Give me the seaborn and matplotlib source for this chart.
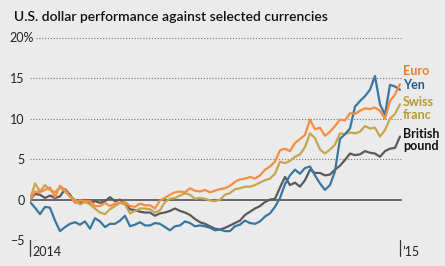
import pandas as pd
import matplotlib
matplotlib.use("Agg")
import matplotlib.pyplot as plt
import matplotlib.dates as mdates
import matplotlib.transforms as mtransforms
import seaborn as sns

# weekly-ish readings, Jan 1 2014 -> Jan 1 2015, percent change vs. the dollar
n_points = 75
euro = [0.0, 1.0, 0.9, 1.2, 1.5, 0.3, 1.7, 1.2, 0.4, -0.4,
        -0.1, -0.2, -0.2, -0.8, -0.8, -0.4, -0.8, -0.5, -0.4, -0.3,
        -0.8, -0.9, -0.5, -0.7, -0.7, -1.1, -0.1, 0.2, 0.6, 0.9,
        1.0, 0.9, 1.4, 1.1, 1.0, 1.2, 0.9, 1.1, 1.3, 1.4,
        1.7, 2.2, 2.5, 2.6, 2.8, 2.6, 3.0, 3.7, 4.1, 4.7,
        6.1, 6.3, 6.0, 7.0, 7.5, 8.0, 9.9, 8.7, 8.9, 7.9,
        8.4, 9.1, 9.9, 9.8, 10.7, 10.6, 11.0, 11.3, 11.2, 11.4,
        11.0, 10.0, 12.2, 13.0, 14.3]
yen = [-0.3, -1.0, -1.8, -0.9, -1.0, -2.6, -3.9, -3.4, -3.0, -2.8,
       -3.1, -2.7, -3.6, -2.3, -2.7, -3.4, -3.0, -3.0, -2.6, -2.0,
       -3.3, -3.1, -2.8, -3.2, -3.2, -2.9, -3.0, -3.4, -3.8, -3.3,
       -3.2, -2.7, -2.9, -3.3, -3.2, -3.3, -3.5, -3.8, -3.7, -3.9,
       -3.9, -3.3, -3.1, -2.6, -2.9, -3.0, -2.7, -2.1, -1.7, -0.9,
       0.2, 1.9, 3.0, 3.7, 3.2, 3.9, 4.1, 3.0, 2.0, 1.2,
       1.8, 3.5, 7.5, 8.1, 8.8, 11.5, 12.2, 12.8, 13.6, 15.3,
       11.8, 10.5, 14.2, 14.0, 13.6]
swiss_franc = [0.0, 2.0, 1.0, 1.8, 1.2, 0.9, 1.5, 1.0, 0.4, 0.0,
               -0.6, -0.3, -0.6, -1.1, -1.6, -1.8, -1.2, -0.8, -0.4, -0.6,
               -1.7, -1.4, -1.1, -1.1, -1.2, -1.6, -1.3, -0.3, 0.1, 0.2,
               0.5, 0.8, 0.6, 0.1, 0.2, 0.1, -0.1, -0.2, 0.0, 0.6,
               0.8, 1.3, 1.4, 1.6, 1.6, 1.8, 2.1, 2.4, 2.6, 3.2,
               4.7, 4.5, 4.8, 5.3, 5.6, 6.5, 8.2, 7.6, 6.2, 5.7,
               6.2, 6.8, 8.2, 8.1, 8.3, 8.2, 8.4, 9.1, 8.8, 8.9,
               7.8, 8.6, 10.0, 10.6, 11.8]
british_pound = [0.0, 0.7, 0.6, 0.2, 0.5, 0.2, 0.4, 1.3, 0.6, -0.3,
                 -0.4, -0.2, -0.4, -0.2, -0.4, -0.2, 0.3, -0.2, 0.0, -0.5,
                 -1.2, -1.3, -1.5, -1.6, -1.6, -2.0, -1.7, -1.6, -1.4, -1.1,
                 -1.4, -1.6, -1.9, -2.4, -2.8, -3.0, -3.3, -3.6, -3.7, -3.5,
                 -3.2, -2.9, -2.6, -1.9, -1.5, -1.1, -0.8, -0.3, 0.0, 0.1,
                 1.5, 2.8, 1.8, 2.1, 1.6, 2.4, 3.7, 3.3, 3.3, 3.0,
                 3.1, 3.7, 4.2, 4.9, 5.7, 5.5, 5.6, 6.0, 5.8, 5.7,
                 5.3, 6.0, 6.3, 6.4, 7.8]

currencies = ["Euro", "Yen", "Swiss franc", "British pound"]
colors = {"Euro": "#f68d42", "Yen": "#3a779e",
          "Swiss franc": "#c4a64e", "British pound": "#5a5a5a"}
label_colors = {"Euro": "#f27a2a", "Yen": "#1f5d88",
                "Swiss franc": "#b89a36", "British pound": "#111111"}
label_y = {"Euro": 15.9, "Yen": 14.2, "Swiss franc": 11.3, "British pound": 7.4}

dates = pd.date_range("2014-01-01", "2015-01-01", periods=n_points)
df = pd.DataFrame({"date": dates, "Euro": euro, "Yen": yen,
                   "Swiss franc": swiss_franc, "British pound": british_pound})
df = df.melt(id_vars="date", var_name="currency", value_name="pct")

bg = "#ebebeb"
sns.set_style("white")
plt.rcParams["font.family"] = ["Lato", "DejaVu Sans"]

fig = plt.figure(figsize=(4.45, 2.66), dpi=100, facecolor=bg)
ax = fig.add_axes([30 / 445, 1 - 240 / 266, 372 / 445, 202 / 266])
ax.set_facecolor(bg)

# grid
dot = (0, (1, 1.6))
for v in [5, 10, 15, -5]:
    ax.axhline(v, color="#777777", lw=0.8, ls=dot, zorder=1)
ax.axhline(20, xmin=6 / 372, color="#777777", lw=0.8, ls=dot, zorder=1)
ax.axhline(0, color="#444444", lw=1.1, zorder=1.5)

sns.lineplot(data=df, x="date", y="pct", hue="currency", hue_order=currencies[::-1],
             palette=colors, lw=1.6, legend=False, ax=ax, zorder=3)

ax.set_xlim(pd.Timestamp("2014-01-01"), pd.Timestamp("2015-01-03"))
ax.set_ylim(-5, 20)
for s in ax.spines.values():
    s.set_visible(False)
ax.set_xlabel("")
ax.set_ylabel("")

ax.set_yticks([-5, 0, 5, 10, 15])
ax.set_yticklabels(["\u22125", "0", "5", "10", "15"], fontsize=9, color="#222222")
ax.tick_params(axis="y", length=0, pad=4)
ax.text(4 / 372, 20, "20%", transform=mtransforms.blended_transform_factory(ax.transAxes, ax.transData),
        fontsize=9, color="#222222", ha="right", va="center")

ax.set_xticks([])
months = pd.date_range("2014-02-01", "2014-12-01", freq="MS")
ax.set_xticks(months, minor=True)
ax.tick_params(axis="x", which="minor", length=2.5, width=0.8, color="#777777",
               direction="out")
ax.xaxis.set_minor_formatter(mdates.DateFormatter(""))

trans = mtransforms.blended_transform_factory(ax.transData, ax.transAxes)
for d, lab in [(pd.Timestamp("2014-01-01"), "2014"), (pd.Timestamp("2015-01-01"), "\u201915")]:
    ax.plot([d, d], [0, -0.08], transform=trans, color="#333333", lw=0.9, clip_on=False)
    ax.text(d + pd.Timedelta(days=2), -0.06, lab, transform=trans, fontsize=9,
            color="#222222", ha="left", va="center")

# right-side labels
for c in currencies:
    ax.text(pd.Timestamp("2015-01-04"), label_y[c], c.replace(" ", "\n"),
            fontsize=9, fontweight="bold", color=label_colors[c],
            ha="left", va="center", linespacing=1.05, clip_on=False)

fig.text(14 / 445, 1 - 17 / 266, "U.S. dollar performance against selected currencies",
         fontsize=10, fontweight="semibold", color="#111111", ha="left", va="center")

fig.savefig("out.png", dpi=100, facecolor=bg)
